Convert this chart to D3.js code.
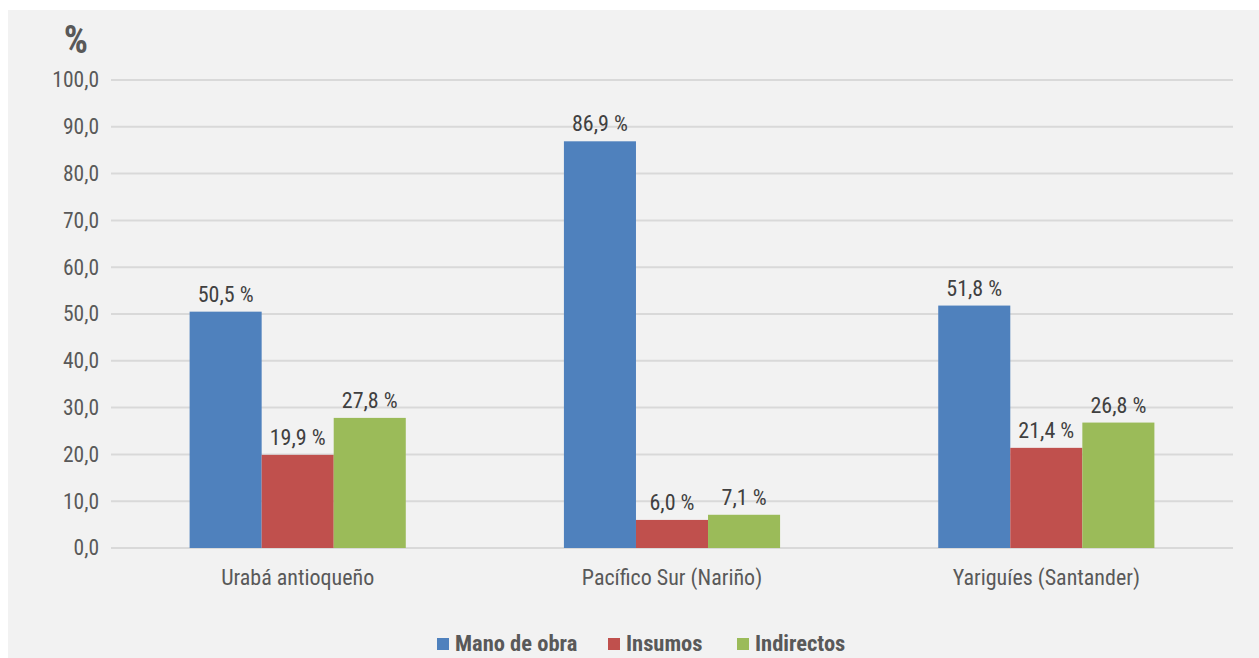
<!DOCTYPE html>
<html>
<head>
<meta charset="utf-8">
<script src="https://cdn.jsdelivr.net/npm/d3@7"></script>
<style>
  body { margin: 0; background: #fff; }
  svg text { font-family: "Liberation Sans Narrow", "Arial Narrow", "Roboto Condensed", sans-serif; }
</style>
</head>
<body>
<div id="chart"></div>
<script>
// data
const categories = ["Urabá antioqueño", "Pacífico Sur (Nariño)", "Yariguíes (Santander)"];
const seriesNames = ["Mano de obra", "Insumos", "Indirectos"];
const manoDeObra = [50.5, 86.9, 51.8];
const insumos = [19.9, 6.0, 21.4];
const indirectos = [27.8, 7.1, 26.8];
const yTicks = [0, 10, 20, 30, 40, 50, 60, 70, 80, 90, 100];
const colors = ["#4f81bd", "#c0504d", "#9bbb59"];

const seriesValues = [manoDeObra, insumos, indirectos];

const width = 1259;
const height = 658;
const margin = {top: 80, right: 26, bottom: 110, left: 111};

const svg = d3.select("#chart")
    .append("svg")
    .attr("width", width)
    .attr("height", height);

// gray panel
svg.append("rect")
    .attr("x", 8)
    .attr("y", 10)
    .attr("width", width - 8)
    .attr("height", height - 10)
    .attr("fill", "#f2f2f2");

const x0 = d3.scaleBand()
    .domain(categories)
    .range([margin.left, width - margin.right])
    .paddingInner(0.4225)
    .paddingOuter(0.21);

const x1 = d3.scaleBand()
    .domain(seriesNames)
    .range([0, x0.bandwidth()]);

const y = d3.scaleLinear()
    .domain([0, 100])
    .range([height - margin.bottom, margin.top]);

// gridlines
svg.append("g")
    .selectAll("line")
    .data(yTicks)
    .enter().append("line")
    .attr("x1", margin.left)
    .attr("x2", width - margin.right)
    .attr("y1", d => y(d))
    .attr("y2", d => y(d))
    .attr("stroke", "#d9d9d9")
    .attr("stroke-width", 2);

// y axis labels
const yAxis = svg.append("g")
    .attr("transform", `translate(${margin.left},0)`)
    .call(d3.axisLeft(y)
        .tickValues(yTicks)
        .tickSize(0)
        .tickPadding(12)
        .tickFormat(d => d3.format(".1f")(d).replace(".", ",")));
yAxis.select(".domain").remove();
yAxis.selectAll("text")
    .attr("font-size", 21.5)
    .attr("fill", "#595959")
    .style("font-family", null);

// "%" label
svg.append("text")
    .attr("x", 76)
    .attr("y", 53)
    .attr("text-anchor", "middle")
    .attr("font-size", 38)
    .attr("font-weight", "bold")
    .attr("fill", "#595959")
    .text("%");

// bars
const groups = svg.append("g")
    .selectAll("g")
    .data(categories)
    .enter().append("g")
    .attr("transform", d => `translate(${x0(d)},0)`);

groups.selectAll("rect")
    .data((c, ci) => seriesNames.map((s, si) => ({s, si, v: seriesValues[si][ci]})))
    .enter().append("rect")
    .attr("x", d => x1(d.s))
    .attr("y", d => y(d.v))
    .attr("width", x1.bandwidth())
    .attr("height", d => y(0) - y(d.v))
    .attr("fill", d => colors[d.si]);

groups.selectAll("text")
    .data((c, ci) => seriesNames.map((s, si) => ({s, si, v: seriesValues[si][ci]})))
    .enter().append("text")
    .attr("x", d => x1(d.s) + x1.bandwidth() / 2)
    .attr("y", d => y(d.v) - 10)
    .attr("text-anchor", "middle")
    .attr("font-size", 22)
    .attr("fill", "#404040")
    .text(d => d3.format(".1f")(d.v).replace(".", ",") + " %");

// category labels
const xAxis = svg.append("g")
    .attr("transform", `translate(0,${height - margin.bottom})`)
    .call(d3.axisBottom(x0).tickSize(0).tickPadding(21));
xAxis.select(".domain").remove();
xAxis.selectAll("text")
    .attr("font-size", 22)
    .attr("fill", "#595959")
    .style("font-family", null);

// legend
const legendX = [437, 608, 737];
const legend = svg.append("g")
    .selectAll("g")
    .data(seriesNames)
    .enter().append("g")
    .attr("transform", (d, i) => `translate(${legendX[i]},638)`);

legend.append("rect")
    .attr("width", 12)
    .attr("height", 12)
    .attr("fill", (d, i) => colors[i]);

legend.append("text")
    .attr("x", 18)
    .attr("y", 13)
    .attr("font-size", 22.5)
    .attr("font-weight", "bold")
    .attr("fill", "#595959")
    .text(d => d);
</script>
</body>
</html>
